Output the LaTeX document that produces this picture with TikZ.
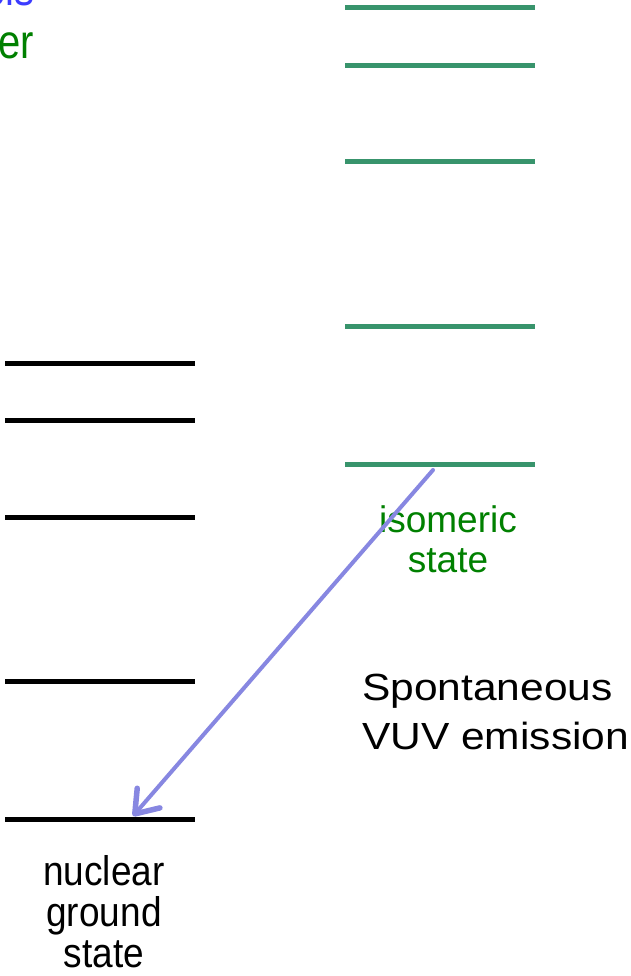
\documentclass[tikz,border=0pt]{standalone}
\usepackage{fontspec}
\setmainfont{Liberation Sans}
\usetikzlibrary{arrows.meta}

\definecolor{levelgreen}{RGB}{56,148,108}
\definecolor{labelgreen}{RGB}{0,128,0}
\definecolor{labelblue}{RGB}{60,60,255}
\definecolor{decayblue}{RGB}{135,135,225}

\tikzset{
	groundlevel/.style={line width=5pt, black},
	isolevel/.style={line width=5pt, levelgreen},
	decay/.style={line width=4pt, decayblue, line cap=round,
		-{Straight Barb[round, length=21pt, width=30pt, line width=5.5pt]}},
	biglabel/.style={font=\fontsize{37}{40}\selectfont, inner sep=0pt, align=center},
}

\begin{document}
\begin{tikzpicture}[x=1pt, y=-1pt]
			\useasboundingbox (0,0) rectangle (630,976);
			\clip (0,0) rectangle (630,976);
			
			%%%%% HEADING (cut at the edge) %%%%%
			\node[biglabel, font=\fontsize{40}{53}\selectfont, yscale=1.2, labelblue, anchor=base east] (headA) at (35, 6) {els};
			\node[biglabel, font=\fontsize{40}{53}\selectfont, yscale=1.2, labelgreen, anchor=base east] (headB) at (34, 59) {er};
			
			%%%%% NUCLEAR LEVELS %%%%%
			\draw[groundlevel] (5, 363.5) -- (195, 363.5);
			\draw[groundlevel] (5, 420.5) -- (195, 420.5);
			\draw[groundlevel] (5, 517) -- (195, 517);
			\draw[groundlevel] (5, 681) -- (195, 681);
			\draw[groundlevel] (5, 819.5) -- (195, 819.5);
			
			\draw[isolevel] (345, 8) -- (535, 8);
			\draw[isolevel] (345, 66) -- (535, 66);
			\draw[isolevel] (345, 162) -- (535, 162);
			\draw[isolevel] (345, 326) -- (535, 326);
			\draw[isolevel] (345, 464) -- (535, 464);
			
			%%%%% LABELS %%%%%
			\node[biglabel, labelgreen, anchor=base] (iso) at (448, 572) {isomeric\\state};
			\node[biglabel, font=\fontsize{42.5}{55}\selectfont, yscale=0.89, align=left, anchor=base west] (vuv) at (362, 749) {Spontaneous\\VUV emission};
			\node[biglabel, font=\fontsize{37}{36.5}\selectfont, yscale=1.12, anchor=base] (gnd) at (104, 967) {nuclear\\ground\\state};
			
			%%%%% DECAY %%%%%
			\coordinate (isotop) at (433, 470);
			\coordinate (gndtop) at (133, 816);
			\draw[decay] (isotop) -- (gndtop);
			
		\end{tikzpicture}
\end{document}
